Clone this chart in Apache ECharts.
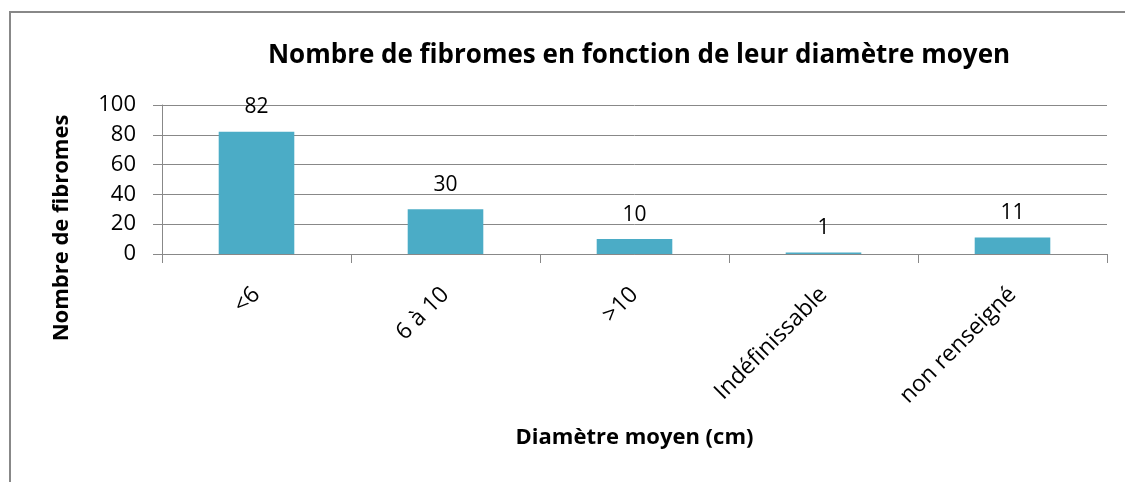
<!DOCTYPE html>
<html>
<head>
<meta charset="utf-8">
<script src="https://cdn.jsdelivr.net/npm/echarts@6/dist/echarts.min.js"></script>
<style>
  html, body { margin: 0; padding: 0; background: #fff; }
  #main { width: 1125px; height: 482px; }
</style>
</head>
<body>
<div id="main"></div>
<script>
var categories = ['<6', '6 à 10', '>10', 'Indéfinissable', 'non renseigné'];
var counts = [82, 30, 10, 1, 11];
var yTicks = [0, 20, 40, 60, 80, 100];

var gray = '#888888';
var font = 'Open Sans';

var chart = echarts.init(document.getElementById('main'));

var option = {
  backgroundColor: '#fff',
  animation: false,
  textStyle: { fontFamily: font },
  title: {
    text: 'Nombre de fibromes en fonction de leur diamètre moyen',
    left: 634,
    top: 38,
    textAlign: 'center',
    textStyle: { fontFamily: font, fontSize: 26, fontWeight: 'bold', color: '#000' }
  },
  graphic: [{
    type: 'rect',
    shape: { x: 10, y: 12, width: 1300, height: 700 },
    style: { fill: null, stroke: gray, lineWidth: 2 },
    silent: true
  }, {
    // titre de l'axe vertical, centré sur le cadre comme dans Excel
    type: 'text',
    x: 62,
    y: 228,
    rotation: Math.PI / 2,
    style: {
      text: 'Nombre de fibromes',
      fontFamily: font, fontSize: 22, fontWeight: 'bold', fill: '#000',
      align: 'center', verticalAlign: 'middle'
    },
    silent: true
  }],
  grid: { left: 162, right: 18, top: 105, bottom: 228 },
  xAxis: {
    type: 'category',
    data: categories,
    name: 'Diamètre moyen (cm)',
    nameLocation: 'middle',
    nameGap: 173,
    nameTextStyle: { fontFamily: font, fontSize: 22, fontWeight: 'bold', color: '#000' },
    axisLine: { lineStyle: { color: gray, width: 1 } },
    axisTick: { show: true, alignWithLabel: false, length: 9, lineStyle: { color: gray } },
    axisLabel: { rotate: 45, margin: 37, fontSize: 23, color: '#000', fontFamily: font, interval: 0 }
  },
  yAxis: {
    type: 'value',
    min: 0,
    max: 100,
    interval: 20,
    axisLine: { show: true, lineStyle: { color: gray, width: 1 } },
    axisTick: { show: true, length: 9, lineStyle: { color: gray } },
    axisLabel: {
      fontSize: 22, color: '#000', fontFamily: font, margin: 26,
      formatter: function (v) { return yTicks.indexOf(v) >= 0 ? String(v) : ''; }
    },
    splitLine: { lineStyle: { color: gray, width: 1 } }
  },
  series: [{
    type: 'bar',
    data: counts,
    barWidth: '40%',
    itemStyle: { color: '#4BACC6' },
    label: {
      show: true,
      position: 'top',
      distance: 14,
      fontSize: 21,
      color: '#000',
      fontFamily: font
    }
  }]
};

chart.setOption(option);
</script>
</body>
</html>
